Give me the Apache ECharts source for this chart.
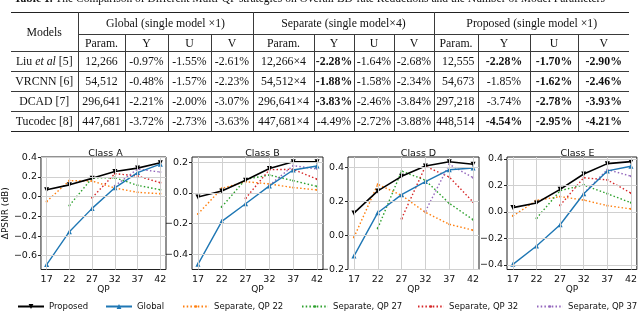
<!DOCTYPE html>
<html><head><meta charset="utf-8">
<script src="https://cdn.jsdelivr.net/npm/echarts@6/dist/echarts.min.js"></script>
<style>
html,body{margin:0;padding:0;background:#fff;}
#wrap{position:relative;width:640px;height:311px;overflow:hidden;}
#chart{position:absolute;left:0;top:0;width:640px;height:311px;}
#cap{position:absolute;left:14px;top:-8px;font-family:'Liberation Serif',serif;font-size:11.5px;white-space:nowrap;color:#111;z-index:2}
#tbl{position:absolute;left:11px;top:12px;border-collapse:collapse;table-layout:fixed;font-family:'Liberation Serif',serif;font-size:11.8px;color:#111;z-index:2}
#tbl td{padding:0;text-align:center;border:1px solid #3a3a3a;white-space:nowrap;overflow:hidden;}
#tbl td.nl{border-left:none}
#tbl td.nr{border-right:none}
#tbl td.pr{text-align:right;padding-right:3px}
#tbl tr.top td{border-top:1.5px solid #222}
#tbl tr.bot td{border-bottom:1.5px solid #222}
#tbl b{font-weight:bold}
</style></head>
<body><div id="wrap">
<div id="chart"></div>
<div id="cap"><b>Table 1.</b> The Comparison of Different Multi-QP strategies on Overall BD-rate Reductions and the Number of Model Parameters</div>
<table id="tbl"></table>
</div>
<script>
// ---------- table data ----------
const groupHeads = ['Global (single model \u00d71)', 'Separate (single model\u00d74)', 'Proposed (single model \u00d71)'];
const subHeads = ['Param.', 'Y', 'U', 'V'];
const modelNames = ['Liu <i>et al</i> [5]', 'VRCNN [6]', 'DCAD [7]', 'Tucodec [8]'];
const globalRows = [
  ['12,266', '-0.97%', '-1.55%', '-2.61%'],
  ['54,512', '-0.48%', '-1.57%', '-2.23%'],
  ['296,641', '-2.21%', '-2.00%', '-3.07%'],
  ['447,681', '-3.72%', '-2.73%', '-3.63%']
];
const separateRows = [
  ['12,266\u00d74', '**-2.28%', '-1.64%', '-2.68%'],
  ['54,512\u00d74', '**-1.88%', '-1.58%', '-2.34%'],
  ['296,641\u00d74', '**-3.83%', '-2.46%', '-3.84%'],
  ['447,681\u00d74', '-4.49%', '-2.72%', '-3.88%']
];
const proposedRows = [
  ['12,555', '**-2.28%', '**-1.70%', '**-2.90%'],
  ['54,673', '-1.85%', '**-1.62%', '**-2.46%'],
  ['297,218', '-3.74%', '**-2.78%', '**-3.93%'],
  ['448,514', '**-4.54%', '**-2.95%', '**-4.21%']
];
const colWidths = [67, 47, 43, 43, 42, 61, 40, 40, 40, 44, 52, 48, 51];

// ---------- chart data ----------
const qp = [17, 22, 27, 32, 37, 42];
const classTitles = ['Class A', 'Class B', 'Class D', 'Class E'];
const seriesNames = ['Proposed', 'Global', 'Separate, QP 22', 'Separate, QP 27', 'Separate, QP 32', 'Separate, QP 37'];

const proposedA = [0.07, 0.12, 0.186, 0.255, 0.29, 0.345];
const globalA   = [-0.69, -0.356, -0.119, 0.09, 0.245, 0.33];
const sep22A    = [-0.05, 0.163, 0.159, 0.088, 0.044, 0.03];
const sep27A    = [null, -0.09, 0.19, 0.193, 0.115, 0.07];
const sep32A    = [null, null, -0.01, 0.234, 0.21, 0.142];
const sep37A    = [null, null, null, 0.11, 0.28, 0.25];

const proposedB = [-0.026, 0.013, 0.083, 0.159, 0.204, 0.204];
const globalB   = [-0.465, -0.185, -0.07, 0.046, 0.15, 0.176];
const sep22B    = [-0.137, 0.03, 0.074, 0.059, 0.035, 0.02];
const sep27B    = [null, -0.091, 0.089, 0.117, 0.08, 0.043];
const sep32B    = [null, null, -0.035, 0.152, 0.154, 0.09];
const sep37B    = [null, null, null, 0.05, 0.178, 0.157];

const proposedD = [0.131, 0.261, 0.347, 0.408, 0.433, 0.418];
const globalD   = [-0.122, 0.133, 0.239, 0.316, 0.386, 0.396];
const sep22D    = [-0.012, 0.30, 0.235, 0.135, 0.065, 0.03];
const sep27D    = [null, 0.041, 0.378, 0.324, 0.188, 0.092];
const sep32D    = [null, null, 0.098, 0.406, 0.343, 0.196];
const sep37D    = [null, null, null, 0.141, 0.418, 0.339];

const proposedE = [0.033, 0.068, 0.171, 0.287, 0.365, 0.38];
const globalE   = [-0.395, -0.257, -0.096, 0.138, 0.31, 0.345];
const sep22E    = [-0.03, 0.088, 0.116, 0.09, 0.048, 0.023];
const sep27E    = [null, -0.048, 0.161, 0.204, 0.138, 0.07];
const sep32E    = [null, null, 0.05, 0.259, 0.242, 0.143];
const sep37E    = [null, null, null, 0.14, 0.32, 0.27];

const yTicksA = [-0.6, -0.4, -0.2, 0.0, 0.2, 0.4];
const yTicksB = [-0.4, -0.2, 0.0, 0.2];
const yTicksD = [-0.2, 0.0, 0.2, 0.4];
const yTicksE = [-0.4, -0.2, 0.0, 0.2, 0.4];
const yRanges = [[-0.74, 0.403], [-0.499, 0.2346], [-0.201, 0.4606], [-0.434, 0.415]];

// ---------- build table ----------
(function () {
  const t = document.getElementById('tbl');
  let html = '<colgroup>' + colWidths.map(w => '<col style="width:' + w + 'px">').join('') + '</colgroup>';
  html += '<tr class="top" style="height:22px"><td class="nl" rowspan="2">Models</td>';
  groupHeads.forEach((g, i) => { html += '<td colspan="4"' + (i === 2 ? ' class="nr"' : '') + '>' + g + '</td>'; });
  html += '</tr><tr style="height:17px">';
  for (let g = 0; g < 3; g++) subHeads.forEach((s, j) => { html += '<td' + (g === 2 && j === 3 ? ' class="nr"' : '') + '>' + s + '</td>'; });
  html += '</tr>';
  const fmt = v => v.startsWith('**') ? '<b>' + v.slice(2) + '</b>' : v;
  modelNames.forEach((m, r) => {
    html += '<tr' + (r === 3 ? ' class="bot"' : '') + ' style="height:20px"><td class="nl">' + m + '</td>';
    globalRows[r].forEach(v => html += '<td>' + fmt(v) + '</td>');
    separateRows[r].forEach(v => html += '<td>' + fmt(v) + '</td>');
    proposedRows[r].forEach((v, j) => html += '<td class="' + (j === 0 ? 'pr' : '') + (j === 3 ? ' nr' : '') + '">' + fmt(v) + '</td>');
    html += '</tr>';
  });
  t.innerHTML = html;
})();

// ---------- build chart ----------
const allData = [
  [proposedA, globalA, sep22A, sep27A, sep32A, sep37A],
  [proposedB, globalB, sep22B, sep27B, sep32B, sep37B],
  [proposedD, globalD, sep22D, sep27D, sep32D, sep37D],
  [proposedE, globalE, sep22E, sep27E, sep32E, sep37E]
];
const yTicks = [yTicksA, yTicksB, yTicksD, yTicksE];
const colors = ['#000000', '#1f77b4', '#ff7f0e', '#2ca02c', '#d62728', '#9467bd'];
const gridLefts = [35, 192, 348, 507];
const legendLefts = [17, 105, 182, 301, 417, 536];
const gridW = 131, gridTop = 157, gridH = 112.5;
const FONT = 'DejaVu Sans';
const fmtTick = v => (v < 0 ? '\u2212' : '') + Math.abs(v).toFixed(1);

const chart = echarts.init(document.getElementById('chart'), null, { renderer: 'canvas' });
const grids = [], xAxes = [], yAxes = [], series = [], titles = [];
for (let c = 0; c < 4; c++) {
  grids.push({ left: gridLefts[c], top: gridTop, width: gridW, height: gridH, show: true, borderColor: '#222', borderWidth: 1, backgroundColor: 'transparent' });
  titles.push({ text: classTitles[c], left: gridLefts[c] + gridW / 2, top: 144, textAlign: 'center',
    textStyle: { fontFamily: FONT, fontSize: 9.5, fontWeight: 'normal', color: '#111' } });
  xAxes.push({ type: 'value', gridIndex: c, min: 15.75, max: 43.25,
    name: 'QP', nameLocation: 'middle', nameGap: 12, nameTextStyle: { fontFamily: FONT, fontSize: 9, color: '#111' },
    axisLine: { show: false }, splitLine: { show: false },
    axisTick: { show: true, customValues: qp, length: 3, lineStyle: { color: '#222' } },
    axisLabel: { customValues: qp, margin: 5, fontFamily: FONT, fontSize: 9.5, color: '#111' } });
  yAxes.push({ type: 'value', gridIndex: c, min: yRanges[c][0], max: yRanges[c][1],
    name: c === 0 ? '\u0394PSNR (dB)' : '', nameLocation: 'middle', nameRotate: 90, nameGap: 19,
    nameTextStyle: { fontFamily: FONT, fontSize: 9, color: '#111' },
    axisLine: { show: false }, splitLine: { show: false },
    axisTick: { show: true, customValues: yTicks[c], length: 3, lineStyle: { color: '#222' } },
    axisLabel: { customValues: yTicks[c], margin: 4, fontFamily: FONT, fontSize: 9.5, color: '#111', formatter: fmtTick } });
  // grid lines through the axes' own scales
  series.push({ type: 'line', xAxisIndex: c, yAxisIndex: c, data: [], silent: true, z: 0,
    markLine: { silent: true, symbol: 'none', animation: false, label: { show: false },
      lineStyle: { color: '#d0d0d0', width: 1, type: 'solid' },
      data: qp.map(v => ({ xAxis: v })).concat(yTicks[c].map(v => ({ yAxis: v }))) } });
  allData[c].forEach((arr, k) => {
    const pts = [];
    arr.forEach((v, i) => { if (v !== null) pts.push([qp[i], v]); });
    const isSep = k >= 2;
    series.push({
      name: seriesNames[k], type: 'line', xAxisIndex: c, yAxisIndex: c, data: pts,
      z: isSep ? 3 : 4, animation: false,
      symbol: isSep ? 'circle' : 'triangle', symbolRotate: k === 0 ? 180 : 0,
      symbolSize: isSep ? 2.2 : 5, showSymbol: true,
      itemStyle: { color: colors[k] },
      lineStyle: { color: colors[k], width: k === 0 ? 1.6 : 1.4, type: isSep ? [1.5, 2.2] : 'solid' },
      emphasis: { disabled: true }
    });
  });
}

const legends = seriesNames.map((n, k) => ({
  data: [n], left: legendLefts[k], top: 302, itemWidth: 26, itemHeight: k >= 2 ? 3 : 6, itemGap: 0, padding: 0,
  selectedMode: false,
  textStyle: { fontFamily: FONT, fontSize: 8.5, color: '#111', padding: [0, 0, 0, 0] }
}));

chart.setOption({
  animation: false,
  title: titles,
  grid: grids, xAxis: xAxes, yAxis: yAxes, series: series,
  legend: legends
});
</script>
</body></html>
